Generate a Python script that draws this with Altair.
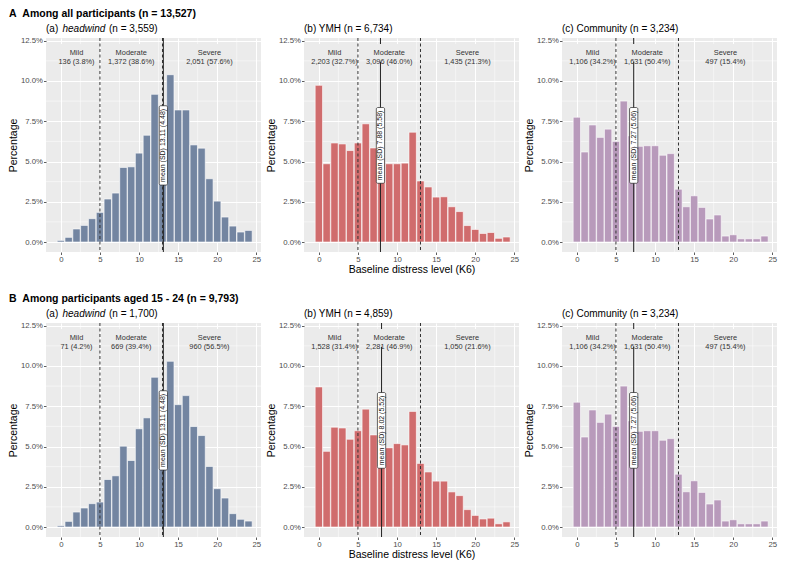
import altair as alt
import pandas as pd

K = list(range(25))

A_HEAD = [0.10, 0.29, 0.81, 1.03, 1.45, 1.84, 2.67, 3.04, 4.63, 4.67, 5.52, 6.63, 9.17,
          8.40, 10.39, 8.20, 8.20, 6.03, 5.83, 3.93, 2.54, 1.55, 0.99, 0.62, 0.72]
A_YMH = [9.73, 4.86, 6.15, 6.09, 5.68, 6.15, 7.34, 5.84, 5.20, 4.86, 4.86, 4.90, 6.82,
         3.79, 3.42, 2.79, 2.81, 2.19, 1.89, 1.02, 0.78, 0.53, 0.59, 0.23, 0.31]
A_COMM = [7.75, 5.59, 7.27, 6.50, 7.01, 6.25, 8.75, 6.60, 5.94, 5.98, 5.98, 5.39, 5.49,
          3.28, 2.19, 2.87, 2.15, 1.43, 1.68, 0.37, 0.45, 0.20, 0.20, 0.20, 0.37]
B_HEAD = [0.08, 0.35, 0.93, 1.18, 1.45, 1.55, 2.95, 3.18, 5.02, 4.13, 6.10, 6.78, 9.30,
          8.40, 10.29, 7.60, 8.16, 6.24, 5.68, 3.76, 2.38, 1.80, 0.83, 0.48, 0.37]
B_YMH = [8.70, 4.70, 6.20, 6.15, 5.45, 5.98, 7.32, 5.72, 5.50, 4.92, 5.18, 5.10, 7.18,
         3.95, 3.42, 2.85, 2.85, 2.18, 1.95, 1.08, 0.72, 0.50, 0.55, 0.20, 0.32]
B_COMM = A_COMM

CAT_NAMES = ["Mild", "Moderate", "Severe"]
CAT_POS = [2, 9, 19]
CUTS = [5, 13]

A_HEAD_CAT = ["136 (3.8%)", "1,372 (38.6%)", "2,051 (57.6%)"]
A_YMH_CAT = ["2,203 (32.7%)", "3,096 (46.0%)", "1,435 (21.3%)"]
A_COMM_CAT = ["1,106 (34.2%)", "1,631 (50.4%)", "497 (15.4%)"]
B_HEAD_CAT = ["71 (4.2%)", "669 (39.4%)", "960 (56.5%)"]
B_YMH_CAT = ["1,528 (31.4%)", "2,281 (46.9%)", "1,050 (21.6%)"]
B_COMM_CAT = A_COMM_CAT

A_MEANS = [13.11, 7.88, 7.27]
A_SDS = ["4.48", "5.58", "5.06"]
B_MEANS = [13.11, 8.02, 7.27]
B_SDS = ["4.48", "5.52", "5.06"]

A_TITLES = [[("(a)", "normal", 0), ("headwind", "italic", 16.5), ("(n = 3,559)", "normal", 63)],
            [("(b) YMH (n = 6,734)", "normal", 0)],
            [("(c) Community (n = 3,234)", "normal", 0)]]
B_TITLES = [[("(a)", "normal", 0), ("headwind", "italic", 16.5), ("(n = 1,700)", "normal", 63)],
            [("(b) YMH (n = 4,859)", "normal", 0)],
            [("(c) Community (n = 3,234)", "normal", 0)]]

ROW_TITLES = ["A\u00a0\u00a0Among all participants (n = 13,527)",
              "B\u00a0\u00a0Among participants aged 15 - 24 (n = 9,793)"]

COLORS = ["#7385A1", "#D06C6D", "#B89ABB"]
X_TICKS = [0, 5, 10, 15, 20, 25]
Y_TICKS = [0, 2.5, 5, 7.5, 10, 12.5]
X_MINOR = [2.5, 7.5, 12.5, 17.5, 22.5]
Y_MINOR = [1.25, 3.75, 6.25, 8.75, 11.25]

FONT = "Liberation Sans"
W, H = 215, 214
BG = "#EBEBEB"

XS = alt.Scale(domain=[-1.9, 25.6], nice=False, zero=False)
YS = alt.Scale(domain=[-0.62, 12.67], nice=False, zero=False)


def panel(vals, color, mean, sd, counts, title_segs, xtitle):
    xax = alt.Axis(values=X_TICKS, title=xtitle if xtitle else None, format="d")
    yax = alt.Axis(values=Y_TICKS, title="Percentage",
                   labelExpr="format(datum.value, '.1f') + '%'")

    def X(f):
        return alt.X(f, scale=XS, axis=xax)

    def Y(f):
        return alt.Y(f, scale=YS, axis=yax)

    df = pd.DataFrame({"k": K, "pct": vals})
    xminor = alt.Chart(pd.DataFrame({"v": X_MINOR})).mark_rule(
        color="white", strokeWidth=0.5).encode(x=X("v:Q"))
    yminor = alt.Chart(pd.DataFrame({"v": Y_MINOR})).mark_rule(
        color="white", strokeWidth=0.5).encode(y=Y("v:Q"))
    bars = alt.Chart(df).transform_calculate(
        x0="datum.k - 0.47", x1="datum.k + 0.47", z="0"
    ).mark_rect(color=color, stroke="white", strokeWidth=0.6).encode(
        x=X("x0:Q"), x2="x1:Q", y=Y("pct:Q"), y2="z:Q")
    cuts = alt.Chart(pd.DataFrame({"v": CUTS})).mark_rule(
        color="#333333", strokeWidth=1, strokeDash=[3, 2.5]).encode(x=X("v:Q"))
    mline = alt.Chart(pd.DataFrame({"v": [mean]})).mark_rule(
        color="#222222", strokeWidth=1).encode(x=X("v:Q"))

    cdf = pd.DataFrame({"xc": CAT_POS, "name": CAT_NAMES, "cnt": counts})
    cbase = alt.Chart(cdf).transform_calculate(
        label="datum.name + '\\n' + datum.cnt",
        hw="length(datum.cnt) * 0.21 + 0.1",
        x0="datum.xc - datum.hw", x1="datum.xc + datum.hw",
        y0="11.2", y1="12.3", yc="11.71")
    cbg = cbase.mark_rect(fill=BG).encode(x=X("x0:Q"), x2="x1:Q", y=Y("y0:Q"), y2="y1:Q")
    ctext = cbase.mark_text(font=FONT, fontSize=7.4, color="#333333", lineBreak="\n",
                            lineHeight=9, baseline="middle", align="center").encode(
        x=X("xc:Q"), y=Y("yc:Q"), text="label:N")

    mdf = pd.DataFrame({"m": [mean], "label": [f"mean (SD) {mean:.2f} ({sd})"]})
    mbase = alt.Chart(mdf).transform_calculate(
        hh="length(datum.label) * 0.112",
        x0="datum.m - 0.53", x1="datum.m + 0.53",
        y0="6.0 - datum.hh", y1="6.0 + datum.hh", yc="6.0")
    mbox = mbase.mark_rect(fill="white", stroke="#222222", strokeWidth=0.7,
                           cornerRadius=1.5).encode(
        x=X("x0:Q"), x2="x1:Q", y=Y("y0:Q"), y2="y1:Q")
    mtext = mbase.mark_text(font=FONT, fontSize=7, color="#111111", angle=270,
                            baseline="middle", align="center").encode(
        x=X("m:Q"), y=Y("yc:Q"), text="label:N")

    titles = []
    for txt, style, off in title_segs:
        titles.append(alt.Chart(pd.DataFrame({"t": [txt]})).mark_text(
            font=FONT, fontSize=10, fontStyle=style, color="black",
            align="left", baseline="middle").encode(
            x=alt.value(off), y=alt.value(-9), text="t:N"))

    return alt.layer(xminor, yminor, bars, cuts, mline, cbg, ctext, mbox, mtext,
                     *titles).properties(width=W, height=H)


def row(idx, vals_list, cats, means, sds, titles):
    panels = []
    for j in range(3):
        panels.append(panel(vals_list[j], COLORS[j], means[j], sds[j], cats[j], titles[j],
                            "Baseline distress level (K6)" if j == 1 else ""))
    return alt.hconcat(*panels, spacing=4).properties(
        title=alt.TitleParams(ROW_TITLES[idx], anchor="start", font=FONT, fontSize=10.5,
                              fontWeight="bold", color="black", offset=5))


rowA = row(0, [A_HEAD, A_YMH, A_COMM], [A_HEAD_CAT, A_YMH_CAT, A_COMM_CAT],
           A_MEANS, A_SDS, A_TITLES)
rowB = row(1, [B_HEAD, B_YMH, B_COMM], [B_HEAD_CAT, B_YMH_CAT, B_COMM_CAT],
           B_MEANS, B_SDS, B_TITLES)

chart = alt.vconcat(rowA, rowB, spacing=17).properties(
    padding={"left": 0, "right": 0, "top": 0, "bottom": 0}
).configure_view(fill=BG, stroke=None).configure_axis(
    domain=False, tickColor="#333333", tickSize=2.5, tickWidth=0.8,
    labelColor="#4D4D4D", labelFont=FONT, labelFontSize=7.8, labelPadding=1,
    titleFont=FONT, titleFontSize=10.5, titleFontWeight="normal", titleColor="black",
    titlePadding=1.5, grid=True, gridColor="white", gridWidth=1
).configure_concat(spacing=4)

chart.save("out.html", embed_options={"renderer": "svg", "actions": False})
